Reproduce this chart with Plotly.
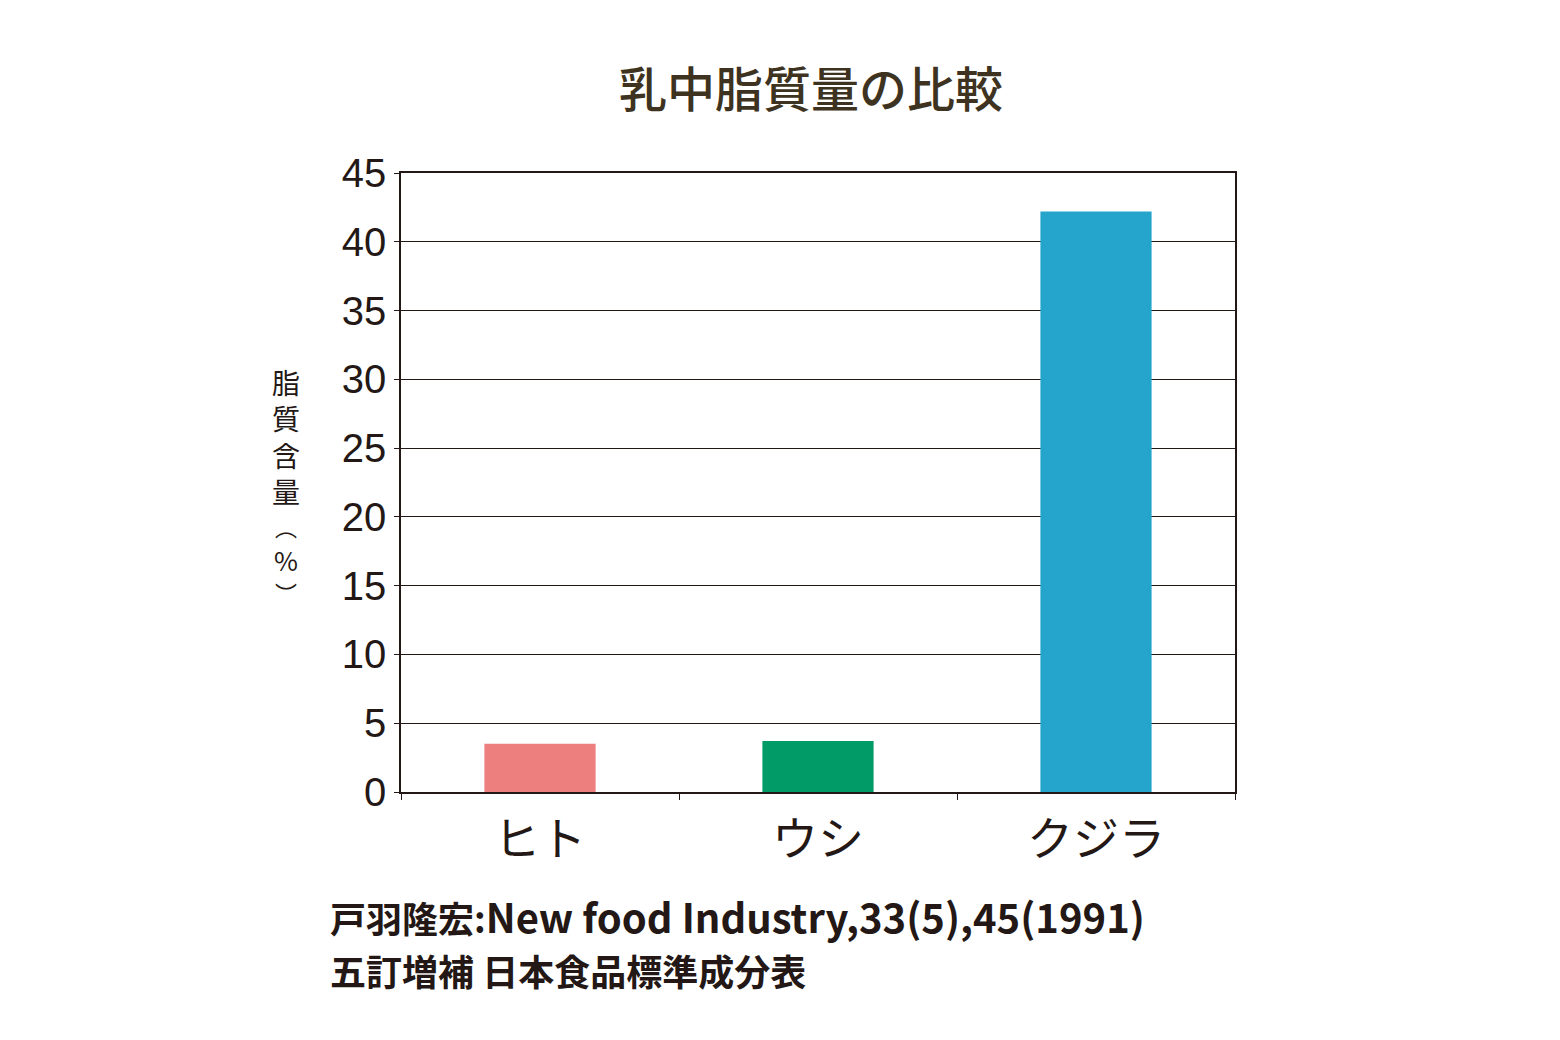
import plotly.graph_objects as go

categories = ["ヒト", "ウシ", "クジラ"]
fat_values = [3.5, 3.7, 42.2]
bar_colors = ["#EE7F7F", "#009B67", "#26A5CC"]
y_ticks = [0, 5, 10, 15, 20, 25, 30, 35, 40, 45]
y_title_main = ["脂", "質", "含", "量"]
y_title_unit = ["︵", "%", "︶"]
source_line1_jp = "戸羽隆宏:"
source_line1_en = "New food Industry,33(5),45(1991)"
source_line2 = "五訂増補 日本食品標準成分表"

INK = "#231815"
CJK = "Noto Sans CJK JP"

fig = go.Figure(go.Bar(
    x=categories, y=fat_values,
    marker=dict(color=bar_colors, line=dict(width=0)),
    width=0.4,
))

fig.update_layout(
    width=1560, height=1040,
    margin=dict(l=401, r=325, t=173, b=248),
    plot_bgcolor="white", paper_bgcolor="white",
    showlegend=False,
    font=dict(family=CJK, color=INK),
)

fig.update_yaxes(
    range=[0, 45], tickvals=y_ticks, ticktext=[str(v) for v in y_ticks],
    showgrid=True, gridcolor=INK, gridwidth=1.3,
    showline=True, linecolor=INK, linewidth=1.5, mirror=True,
    ticks="outside", ticklen=5, tickcolor=INK, tickwidth=1.3,
    tickfont=dict(family="Liberation Sans, Arial", size=40, color=INK),
    zeroline=False, fixedrange=True,
)
fig.update_xaxes(
    showline=True, linecolor=INK, linewidth=1.5, mirror=True,
    ticks="outside", ticklen=6, tickcolor=INK, tickwidth=1.3,
    tickson="boundaries",
    tickfont=dict(family=CJK, size=46, color=INK),
    ticklabelstandoff=6,
)

def py_to_paper(py):
    return (792 - py) / (792 - 173)

# Title
fig.add_annotation(
    text="乳中脂質量の比較", xref="paper", yref="paper",
    x=0.492, y=1.0, yshift=87, xanchor="center", yanchor="middle",
    showarrow=False, font=dict(family=CJK, size=48, color="#3d3320", weight=500),
)

# Vertical y-axis title
fig.add_annotation(
    text="<br>".join(y_title_main), xref="paper", yref="paper",
    x=0, xshift=-115, y=py_to_paper(436), xanchor="center", yanchor="middle",
    showarrow=False, align="center",
    font=dict(family=CJK, size=28, color=INK),
)
for ch, py, sz in zip(y_title_unit, [526, 559, 592], [22, 26, 22]):
    fig.add_annotation(
        text=ch, xref="paper", yref="paper",
        x=0, xshift=-115, y=py_to_paper(py), xanchor="center", yanchor="middle",
        showarrow=False, font=dict(family=CJK, size=sz, color=INK),
    )

# Source notes
fig.add_annotation(
    text=source_line1_jp + f'<span style="font-size:40px">{source_line1_en}</span>',
    xref="paper", yref="paper", x=0, xshift=-73, y=py_to_paper(916),
    xanchor="left", yanchor="middle", showarrow=False, align="left",
    font=dict(family=CJK, size=36, color=INK, weight=700),
)
fig.add_annotation(
    text=source_line2,
    xref="paper", yref="paper", x=0, xshift=-73, y=py_to_paper(970),
    xanchor="left", yanchor="middle", showarrow=False, align="left",
    font=dict(family=CJK, size=36, color=INK, weight=700),
)

fig.write_html("out.html")
